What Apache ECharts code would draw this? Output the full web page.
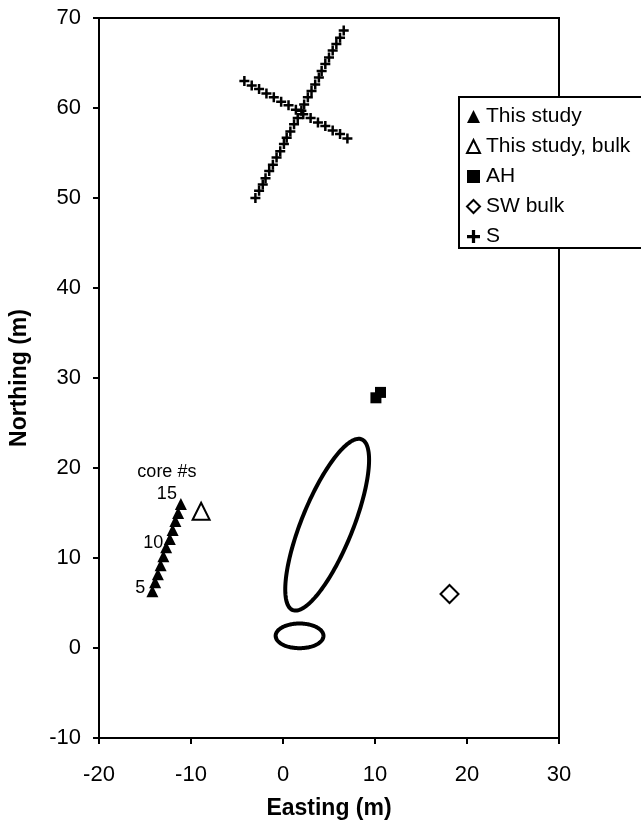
<!DOCTYPE html>
<html>
<head>
<meta charset="utf-8">
<script src="https://cdn.jsdelivr.net/npm/echarts@6/dist/echarts.min.js"></script>
<style>
  html, body { margin: 0; padding: 0; background: #fff; }
  #chart { width: 641px; height: 827px; }
</style>
</head>
<body>
<div id="chart"></div>
<script>
// Core samples from this study (core number, easting, northing)
const coreNumbers = [5, 6, 7, 8, 9, 10, 11, 12, 13, 14, 15];
const thisStudyEasting = [-14.2, -13.9, -13.6, -13.3, -13.0, -12.7, -12.3, -12.0, -11.7, -11.4, -11.1];
const thisStudyNorthing = [6.3, 7.3, 8.2, 9.2, 10.2, 11.2, 12.1, 13.1, 14.1, 15.0, 16.0];

// Bulk sample from this study
const bulkEasting = [-8.9];
const bulkNorthing = [15.2];

// AH samples
const ahEasting = [10.1, 10.6];
const ahNorthing = [27.8, 28.4];

// SW bulk sample
const swBulkEasting = [18.1];
const swBulkNorthing = [6.0];

// S transects
const sEasting = [
  -3.0, -2.6, -2.2, -1.9, -1.5, -1.1, -0.7, -0.3, 0.1, 0.4, 0.8, 1.2, 1.6,
  2.0, 2.3, 2.7, 3.1, 3.5, 3.9, 4.2, 4.6, 5.0, 5.4, 5.8, 6.2, 6.6,
  -4.2, -3.4, -2.6, -1.8, -1.0, -0.2, 0.6, 1.4, 2.2, 3.0, 3.8, 4.6, 5.4, 6.2, 7.0
];
const sNorthing = [
  50.0, 50.8, 51.5, 52.2, 53.0, 53.7, 54.5, 55.2, 56.0, 56.7, 57.4, 58.2, 58.9,
  59.7, 60.4, 61.2, 61.9, 62.6, 63.4, 64.1, 64.9, 65.6, 66.4, 67.1, 67.8, 68.6,
  63.0, 62.5, 62.1, 61.6, 61.2, 60.7, 60.3, 59.8, 59.3, 58.9, 58.4, 58.0, 57.5, 57.1, 56.6
];

// Outlined ellipses (centre, semi-axes in metres, rotation in degrees)
const ellipseCenterEasting = [4.8, 1.8];
const ellipseCenterNorthing = [13.7, 1.35];
const ellipseSemiMajor = [10.2, 2.6];
const ellipseSemiMinor = [2.8, 1.37];
const ellipseAngleDeg = [68.5, 0];

// Axis ranges
const xTicks = [-20, -10, 0, 10, 20, 30];
const yTicks = [-10, 0, 10, 20, 30, 40, 50, 60, 70];

const FONT = '"Liberation Sans", Arial, Helvetica, sans-serif';
const pair = (xs, ys) => xs.map((x, i) => [x, ys[i]]);

// Core-number labels on cores 5, 10 and 15
const coreLabels = {
  5:  { text: '5',           offset: [-12, -3] },
  10: { text: '10',          offset: [-13, -4.5] },
  15: { text: 'core #s\n15', offset: [-14, -20.5] }
};
const thisStudyData = coreNumbers.map((n, i) => {
  const item = { value: [thisStudyEasting[i], thisStudyNorthing[i]] };
  const lab = coreLabels[n];
  if (lab) {
    item.label = {
      show: true,
      formatter: lab.text,
      position: 'inside',
      offset: lab.offset,
      align: 'center',
      verticalAlign: 'middle',
      color: '#000',
      fontSize: 18,
      lineHeight: 22,
      fontFamily: FONT
    };
  }
  return item;
});

const plusPath = 'path://M3,0H5V3H8V5H5V8H3V5H0V3H3Z';

const chart = echarts.init(document.getElementById('chart'), null, { renderer: 'canvas' });
chart.setOption({
  animation: false,
  backgroundColor: '#fff',
  textStyle: { fontFamily: FONT },
  grid: {
    left: 98, right: 82, top: 18, bottom: 89,
    show: true, borderColor: '#000', borderWidth: 2, backgroundColor: 'transparent'
  },
  legend: {
    orient: 'vertical',
    left: 459, top: 97,
    backgroundColor: '#fff',
    borderColor: '#000',
    borderWidth: 2,
    borderRadius: 0,
    padding: [9, 30, 1, 7],
    itemWidth: 13, itemHeight: 13,
    itemGap: 9,
    itemStyle: { borderWidth: 0, opacity: 1 },
    textStyle: { fontSize: 21, color: '#000', fontFamily: FONT, padding: [0, 0, 0, 1] },
    data: [
      { name: 'This study' },
      { name: 'This study, bulk', itemStyle: { color: '#fff', borderColor: '#000', borderWidth: 2 } },
      { name: 'AH', icon: 'rect' },
      { name: 'SW bulk', itemStyle: { color: '#fff', borderColor: '#000', borderWidth: 2 } },
      { name: 'S' }
    ],
    z: 10
  },
  xAxis: {
    type: 'value',
    min: xTicks[0], max: xTicks[xTicks.length - 1], interval: 10,
    name: 'Easting (m)', nameLocation: 'middle', nameGap: 59,
    nameTextStyle: { fontSize: 23, fontWeight: 'bold', color: '#000', fontFamily: FONT },
    axisLine: { show: true, onZero: false, lineStyle: { color: '#000', width: 2 } },
    axisTick: { show: true, length: 6, lineStyle: { color: '#000', width: 2 } },
    axisLabel: { fontSize: 22, color: '#000', margin: 26, fontFamily: FONT },
    splitLine: { show: false }
  },
  yAxis: {
    type: 'value',
    min: yTicks[0], max: yTicks[yTicks.length - 1], interval: 10,
    name: 'Northing (m)', nameLocation: 'middle', nameGap: 68, nameRotate: 90,
    nameTextStyle: { fontSize: 23, fontWeight: 'bold', color: '#000', fontFamily: FONT },
    axisLine: { show: true, onZero: false, lineStyle: { color: '#000', width: 2 } },
    axisTick: { show: true, length: 6, lineStyle: { color: '#000', width: 2 } },
    axisLabel: { fontSize: 22, color: '#000', margin: 18, fontFamily: FONT },
    splitLine: { show: false }
  },
  series: [
    {
      name: 'Ellipses',
      type: 'custom',
      data: ellipseCenterEasting.map((x, i) => [x, ellipseCenterNorthing[i], ellipseSemiMajor[i], ellipseSemiMinor[i], ellipseAngleDeg[i]]),
      encode: { x: 0, y: 1 },
      renderItem: function (params, api) {
        const cx = api.value(0), cy = api.value(1);
        const a = api.value(2), b = api.value(3);
        const th = api.value(4) * Math.PI / 180;
        const pts = [];
        const n = 160;
        for (let k = 0; k < n; k++) {
          const t = k / n * 2 * Math.PI;
          const dx = a * Math.cos(t), dy = b * Math.sin(t);
          pts.push(api.coord([cx + dx * Math.cos(th) - dy * Math.sin(th),
                              cy + dx * Math.sin(th) + dy * Math.cos(th)]));
        }
        return {
          type: 'polygon',
          shape: { points: pts },
          style: { fill: 'none', stroke: '#000', lineWidth: 4 }
        };
      },
      silent: true,
      z: 1
    },
    {
      name: 'S',
      type: 'scatter',
      symbol: plusPath,
      symbolSize: 10,
      itemStyle: { color: '#000', opacity: 1 },
      data: pair(sEasting, sNorthing),
      z: 2
    },
    {
      name: 'This study',
      type: 'scatter',
      symbol: 'triangle',
      symbolSize: 12,
      itemStyle: { color: '#000', opacity: 1 },
      data: thisStudyData,
      z: 3
    },
    {
      name: 'This study, bulk',
      type: 'scatter',
      symbol: 'triangle',
      symbolSize: 17,
      itemStyle: { color: '#fff', borderColor: '#000', borderWidth: 2, opacity: 1 },
      data: pair(bulkEasting, bulkNorthing),
      z: 3
    },
    {
      name: 'AH',
      type: 'scatter',
      symbol: 'rect',
      symbolSize: 11,
      itemStyle: { color: '#000', opacity: 1 },
      data: pair(ahEasting, ahNorthing),
      z: 3
    },
    {
      name: 'SW bulk',
      type: 'scatter',
      symbol: 'diamond',
      symbolSize: 18,
      itemStyle: { color: '#fff', borderColor: '#000', borderWidth: 2, opacity: 1 },
      data: pair(swBulkEasting, swBulkNorthing),
      z: 3
    }
  ]
});
</script>
</body>
</html>
